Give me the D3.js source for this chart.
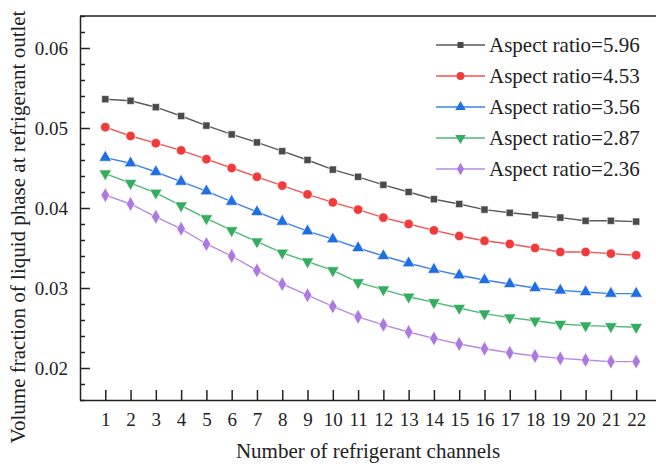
<!DOCTYPE html>
<html>
<head>
<meta charset="utf-8">
<script src="https://cdn.jsdelivr.net/npm/d3@7"></script>
<style>
  body { margin: 0; background: #fff; }
  #chart { width: 656px; height: 466px; }
  svg text { font-family: "Liberation Serif", "Times New Roman", Times, Tinos, "DejaVu Serif", serif !important; fill: #222; }
</style>
</head>
<body>
<div id="chart"></div>
<script>
var channels = d3.range(1, 23);

var seriesNames = ["Aspect ratio=5.96", "Aspect ratio=4.53", "Aspect ratio=3.56", "Aspect ratio=2.87", "Aspect ratio=2.36"];

var ar596 = [0.0536, 0.0534, 0.0526, 0.0515, 0.0503, 0.0492, 0.0482, 0.0471, 0.0460, 0.0448, 0.0439,
             0.0429, 0.0420, 0.0411, 0.0405, 0.0398, 0.0394, 0.0391, 0.0388, 0.0384, 0.0384, 0.0383];
var ar453 = [0.0501, 0.0490, 0.0481, 0.0472, 0.0461, 0.0450, 0.0439, 0.0428, 0.0417, 0.0407, 0.0398,
             0.0388, 0.0380, 0.0372, 0.0365, 0.0359, 0.0355, 0.0350, 0.0345, 0.0345, 0.0343, 0.0341];
var ar356 = [0.0463, 0.0456, 0.0445, 0.0433, 0.0421, 0.0408, 0.0395, 0.0383, 0.0371, 0.0361, 0.0350,
             0.0340, 0.0331, 0.0323, 0.0316, 0.0310, 0.0305, 0.0300, 0.0297, 0.0295, 0.0293, 0.0293];
var ar287 = [0.0443, 0.0431, 0.0419, 0.0403, 0.0387, 0.0372, 0.0358, 0.0344, 0.0333, 0.0322, 0.0307,
             0.0298, 0.0289, 0.0282, 0.0275, 0.0268, 0.0263, 0.0259, 0.0255, 0.0253, 0.0252, 0.0251];
var ar236 = [0.0416, 0.0405, 0.0389, 0.0374, 0.0355, 0.0340, 0.0322, 0.0305, 0.0291, 0.0277, 0.0264,
             0.0254, 0.0245, 0.0237, 0.0230, 0.0224, 0.0219, 0.0215, 0.0212, 0.0210, 0.0208, 0.0208];

var yMajorTicks = [0.02, 0.03, 0.04, 0.05, 0.06];
var yTickLabels = ["0.02", "0.03", "0.04", "0.05", "0.06"];

var colors = ["#4a4a4a", "#ef3b3b", "#1f6fe3", "#34ad60", "#ad78e0"];
var lineColors = ["#5a5a5a", "#f25555", "#3d82ea", "#4cb873", "#b88ae4"];
var shapes = [d3.symbolSquare, d3.symbolCircle, d3.symbolTriangle, d3.symbolTriangle, d3.symbolDiamond];
var shapeSizes = [52, 70, 68, 68, 64];
var shapeRotate = [0, 0, 0, 180, 0];

function plot() {
	var allSeries = [ar596, ar453, ar356, ar287, ar236];

	var width = 656, height = 466;
	var left = 80, top = 16, bottom = 400;

	var x = d3.scaleLinear()
	.domain([0, 23])
	.range([left, left + 23 * 25.28]);

	var y = d3.scaleLinear()
	.domain([0.016, 0.064])
	.range([bottom, top]);

	var svg = d3.select("#chart").append("svg")
	.attr("width", width)
	.attr("height", height)
	.attr("font-family", "Liberation Serif");

	// top frame line (right side is cut off in the original)
	svg.append("line")
	.attr("x1", left).attr("x2", width + 10)
	.attr("y1", top).attr("y2", top)
	.attr("stroke", "#222").attr("stroke-width", 1.5);

	// minor y ticks
	var minor = d3.range(8, 33).map(function(i) { return i * 0.002; })
	.filter(function(v) { return Math.abs(v * 100 - Math.round(v * 100)) > 1e-6; });

	svg.append("g")
	.attr("transform", "translate(" + left + ",0)")
	.call(d3.axisLeft(y).tickValues(minor).tickSize(-5).tickFormat(""))
	.call(function(g) { g.select(".domain").remove(); })
	.selectAll("line").attr("stroke", "#222").attr("stroke-width", 1.5);

	var yAxis = svg.append("g")
	.attr("transform", "translate(" + left + ",0)")
	.call(d3.axisLeft(y)
		.tickValues(yMajorTicks)
		.tickSizeInner(-10)
		.tickSizeOuter(0)
		.tickPadding(12)
		.tickFormat(function(d, i) { return yTickLabels[i]; }));
	yAxis.attr("font-family", null).attr("font-size", 19);
	yAxis.select(".domain").attr("stroke", "#222").attr("stroke-width", 1.5);
	yAxis.selectAll("line").attr("stroke", "#222").attr("stroke-width", 1.5);

	var xAxis = svg.append("g")
	.attr("transform", "translate(0," + bottom + ")")
	.call(d3.axisBottom(x)
		.tickValues(channels)
		.tickSizeInner(-10)
		.tickSizeOuter(0)
		.tickPadding(13)
		.tickFormat(d3.format("d")));
	xAxis.attr("font-family", null).attr("font-size", 19);
	xAxis.select(".domain").attr("stroke", "#222").attr("stroke-width", 1.5);
	xAxis.selectAll("line").attr("stroke", "#222").attr("stroke-width", 1.5);

	var line = d3.line()
	.x(function(d, i) { return x(channels[i]); })
	.y(function(d) { return y(d); });

	allSeries.forEach(function(s, k) {
		svg.append("path")
		.datum(s)
		.attr("d", line)
		.attr("fill", "none")
		.attr("stroke", lineColors[k])
		.attr("stroke-width", 1.4);

		svg.selectAll(".m" + k)
		.data(s)
		.enter().append("path")
		.attr("class", "m" + k)
		.attr("d", d3.symbol().type(shapes[k]).size(shapeSizes[k]))
		.attr("transform", function(d, i) {
			return "translate(" + x(channels[i]) + "," + y(d) + ") rotate(" + shapeRotate[k] + ")";
		})
		.attr("fill", colors[k])
		.attr("stroke", "#fff")
		.attr("stroke-width", 0.6);
	});

	// legend
	var legend = svg.append("g");
	seriesNames.forEach(function(name, k) {
		var ly = 45 + k * 31;
		legend.append("line")
		.attr("x1", 436).attr("x2", 485)
		.attr("y1", ly).attr("y2", ly)
		.attr("stroke", lineColors[k])
		.attr("stroke-width", 1.4);
		legend.append("path")
		.attr("d", d3.symbol().type(shapes[k]).size(shapeSizes[k] * 0.7))
		.attr("transform", "translate(460.5," + ly + ") rotate(" + shapeRotate[k] + ")")
		.attr("fill", colors[k]);
		legend.append("text")
		.attr("x", 489)
		.attr("y", ly)
		.attr("dy", "0.35em")
		.attr("font-size", 21)
		.text(name);
	});

	svg.append("text")
	.attr("x", 368)
	.attr("y", 458)
	.attr("text-anchor", "middle")
	.attr("font-size", 21)
	.text("Number of refrigerant channels");

	svg.append("text")
	.attr("transform", "translate(25,227) rotate(-90)")
	.attr("text-anchor", "middle")
	.attr("font-size", 21)
	.text("Volume fraction of liquid phase at refrigerant outlet");
}

document.addEventListener("DOMContentLoaded", function() {
	plot();
});
</script>
</body>
</html>
